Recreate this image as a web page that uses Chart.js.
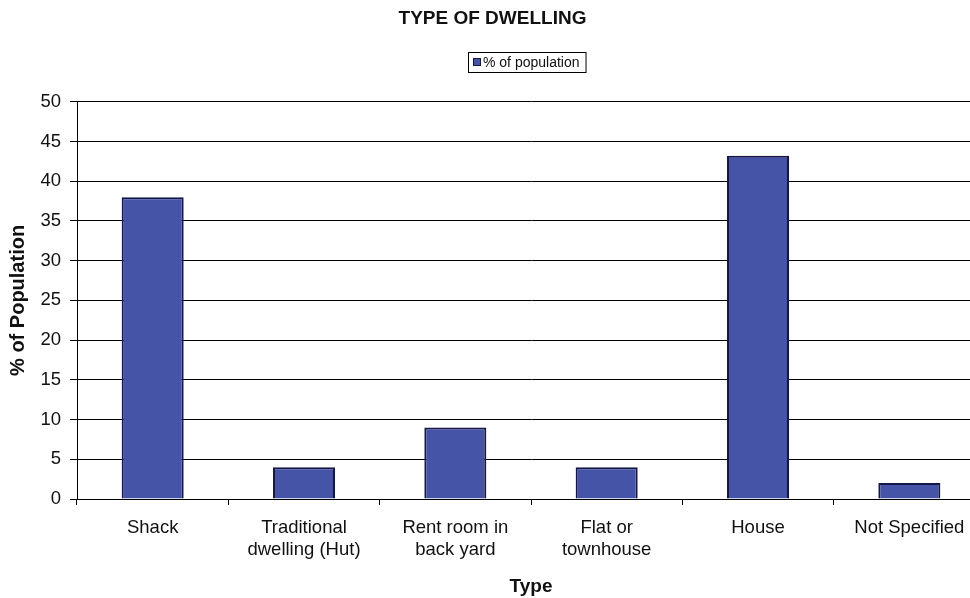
<!DOCTYPE html>
<html>
<head>
<meta charset="utf-8">
<script src="https://cdn.jsdelivr.net/npm/chart.js@4/dist/chart.umd.min.js"></script>
<style>
  html, body { margin: 0; padding: 0; background: #fff; overflow: hidden; width: 970px; height: 598px; }
  #wrap { position: absolute; left: 0; top: 0; width: 985px; height: 598px; }
</style>
</head>
<body>
<div id="wrap"><canvas id="c" width="985" height="598"></canvas></div>
<script>
const chartTitle = 'TYPE OF DWELLING';
const seriesLabel = '% of population';
const categories = [
  ['Shack'],
  ['Traditional', 'dwelling (Hut)'],
  ['Rent room in', 'back yard'],
  ['Flat or', 'townhouse'],
  ['House'],
  ['Not Specified']
];
const values = [38, 4, 9, 4, 43.2, 2];
const yTicks = [0, 5, 10, 15, 20, 25, 30, 35, 40, 45, 50];
const yTitle = '% of Population';
const xTitle = 'Type';

const FONT = "'Liberation Sans', Arial, sans-serif";
const barFill = '#4654A8';
const barEdge = '#15174A';

const legendBoxPlugin = {
  id: 'legendBox',
  afterDraw(chart) {
    const ctx = chart.ctx;
    const ds = chart.data.datasets[0];
    ctx.save();
    ctx.font = '14px ' + FONT;
    const tw = ctx.measureText(ds.label).width;
    const x = 468, y = 52, h = 20;
    const w = 16 + tw + 5;
    ctx.fillStyle = '#fff';
    ctx.fillRect(x, y, w, h);
    ctx.strokeStyle = '#000';
    ctx.lineWidth = 1;
    ctx.strokeRect(x + 0.5, y + 0.5, w, h);
    ctx.fillStyle = ds.backgroundColor;
    ctx.fillRect(x + 5, y + 6, 8, 8);
    ctx.strokeStyle = ds.borderColor;
    ctx.strokeRect(x + 5.5, y + 6.5, 7, 7);
    ctx.fillStyle = '#111';
    ctx.textBaseline = 'middle';
    ctx.fillText(ds.label, x + 15, y + h / 2 + 1);
    ctx.restore();
  }
};

new Chart(document.getElementById('c'), {
  type: 'bar',
  data: {
    labels: categories,
    datasets: [{
      label: seriesLabel,
      data: values,
      backgroundColor: barFill,
      borderColor: barEdge,
      borderWidth: 2,
      barPercentage: 0.41,
      categoryPercentage: 1.0
    }]
  },
  options: {
    responsive: false,
    animation: false,
    devicePixelRatio: 1,
    layout: { padding: { left: 0, right: 0, top: 0, bottom: 0 } },
    plugins: {
      legend: { display: false },
      tooltip: { enabled: false },
      title: {
        display: true,
        text: chartTitle,
        color: '#111',
        font: { family: FONT, size: 19, weight: 'bold' },
        padding: { top: 7, bottom: 72 }
      }
    },
    scales: {
      x: {
        grid: {
          display: true,
          drawOnChartArea: false,
          drawTicks: true,
          tickLength: 6,
          color: '#000',
          offset: true
        },
        border: { display: true, color: '#000', width: 1 },
        ticks: {
          color: '#111',
          font: { family: FONT, size: 18.5, lineHeight: 1.18 },
          padding: 12,
          maxRotation: 0,
          autoSkip: false
        },
        title: {
          display: true,
          text: xTitle,
          color: '#111',
          font: { family: FONT, size: 19, weight: 'bold' },
          padding: { top: 4, bottom: 0 }
        },
        afterFit(scale) { scale.height = 99; }
      },
      y: {
        min: 0,
        max: 50,
        afterBuildTicks(scale) { scale.ticks = yTicks.map(v => ({ value: v })); },
        grid: {
          color: '#000',
          lineWidth: 1,
          drawTicks: true,
          tickLength: 7
        },
        border: { display: true, color: '#000', width: 1 },
        ticks: {
          color: '#111',
          font: { family: FONT, size: 18.5 },
          padding: 9
        },
        title: {
          display: true,
          text: yTitle,
          color: '#111',
          font: { family: FONT, size: 20, weight: 'bold' },
          padding: { top: 6, bottom: 0 }
        },
        afterFit(scale) { scale.width = 77; }
      }
    }
  },
  plugins: [legendBoxPlugin]
});
</script>
</body>
</html>
